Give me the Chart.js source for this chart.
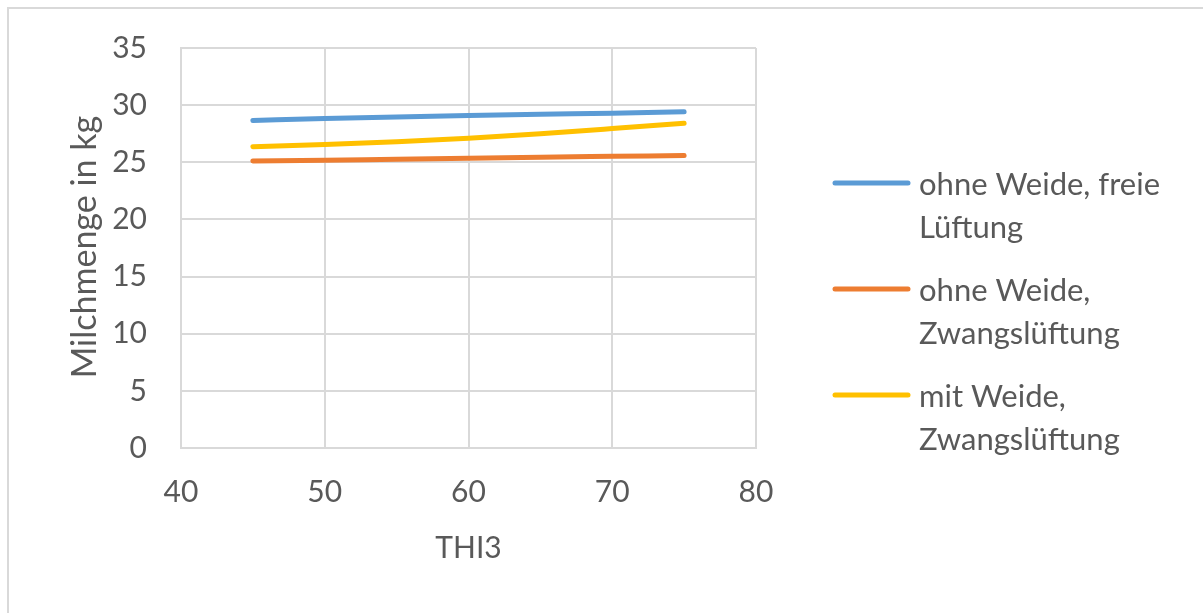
<!DOCTYPE html>
<html>
<head>
<meta charset="utf-8">
<script src="https://cdn.jsdelivr.net/npm/chart.js@4"></script>
<style>
  html, body { margin: 0; padding: 0; background: #fff; }
  #wrap { position: relative; width: 1203px; height: 613px; }
  #frame { position: absolute; left: 7px; top: 7px; width: 1196px; height: 606px;
           border-top: 2px solid #d9d9d9; border-left: 2px solid #d9d9d9; box-sizing: border-box; }
  canvas { position: absolute; left: 0; top: 0; }
</style>
</head>
<body>
<div id="wrap">
  <div id="frame"></div>
  <canvas id="c" width="1203" height="613"></canvas>
</div>
<script>
const thiValues = [45, 50, 55, 60, 65, 70, 75];
const seriesNames = [
  ["ohne Weide, freie", "Lüftung"],
  ["ohne Weide,", "Zwangslüftung"],
  ["mit Weide,", "Zwangslüftung"]
];
const ohneWeideFrei = [28.65, 28.83, 28.96, 29.09, 29.2, 29.3, 29.42];
const ohneWeideZwang = [25.11, 25.18, 25.27, 25.35, 25.44, 25.52, 25.6];
const mitWeideZwang = [26.37, 26.55, 26.8, 27.1, 27.5, 27.95, 28.42];
const xTicks = [40, 50, 60, 70, 80];
const yTicks = [0, 5, 10, 15, 20, 25, 30, 35];
const xTitle = "THI3";
const yTitle = "Milchmenge in kg";
const colors = ["#5B9BD5", "#ED7D31", "#FFC000"];

const FONT = "Lato, 'Open Sans', sans-serif";
const TXT = "#595959";

function pts(arr) { return thiValues.map((x, i) => ({ x: x, y: arr[i] })); }

const allSeries = [ohneWeideFrei, ohneWeideZwang, mitWeideZwang];
const datasets = allSeries.map((s, i) => ({
  label: seriesNames[i].join(" "),
  data: pts(s),
  borderColor: colors[i],
  backgroundColor: colors[i],
  borderWidth: 5,
  borderCapStyle: "round",
  pointRadius: 0,
  tension: 0.4,
  cubicInterpolationMode: "monotone",
  fill: false
}));

const decorPlugin = {
  id: "decor",
  afterDraw(chart) {
    const ctx = chart.ctx;
    ctx.save();
    // y axis title
    ctx.font = "34px " + FONT;
    ctx.fillStyle = TXT;
    ctx.textAlign = "center";
    ctx.textBaseline = "middle";
    ctx.translate(85, 247);
    ctx.rotate(-Math.PI / 2);
    ctx.fillText(yTitle, 0, 0);
    ctx.restore();

    ctx.save();
    const baseY = [185, 291, 397];
    const lineH = 42.5;
    ctx.font = "31px " + FONT;
    ctx.fillStyle = TXT;
    ctx.textBaseline = "middle";
    ctx.textAlign = "left";
    chart.data.datasets.forEach((ds, i) => {
      const y = baseY[i];
      ctx.strokeStyle = ds.borderColor;
      ctx.lineWidth = 5;
      ctx.lineCap = "round";
      ctx.beginPath();
      ctx.moveTo(835, y - 2);
      ctx.lineTo(908, y - 2);
      ctx.stroke();
      seriesNames[i].forEach((t, k) => {
        ctx.fillText(t, 919, y + k * lineH);
      });
    });
    ctx.restore();
  }
};

new Chart(document.getElementById("c"), {
  type: "line",
  data: { datasets: datasets },
  options: {
    responsive: false,
    animation: false,
    layout: { padding: { left: 0, top: 48, right: 447, bottom: 0 } },
    plugins: { legend: { display: false }, tooltip: { enabled: false } },
    scales: {
      x: {
        type: "linear",
        min: 40, max: 80,
        afterBuildTicks(scale) { scale.ticks = xTicks.map(v => ({ value: v })); },
        afterFit(scale) { scale.height = 165; },
        grid: { color: "#d9d9d9", lineWidth: 2, drawTicks: false },
        border: { color: "#d9d9d9", width: 2 },
        ticks: { color: TXT, font: { family: FONT, size: 30 }, padding: 26, maxRotation: 0 },
        title: { display: true, text: xTitle, color: TXT, font: { family: FONT, size: 30 }, padding: { top: 0, bottom: 47 } }
      },
      y: {
        type: "linear",
        min: 0, max: 35,
        afterBuildTicks(scale) { scale.ticks = yTicks.map(v => ({ value: v })); },
        afterFit(scale) { scale.width = 181; scale.paddingTop = 0; scale.paddingBottom = 0; },
        grid: { color: "#d9d9d9", lineWidth: 2, drawTicks: false },
        border: { color: "#d9d9d9", width: 2 },
        ticks: { color: TXT, font: { family: FONT, size: 30, lineHeight: 1 }, padding: 34 },
        title: { display: false }
      }
    }
  },
  plugins: [decorPlugin]
});
</script>
</body>
</html>
